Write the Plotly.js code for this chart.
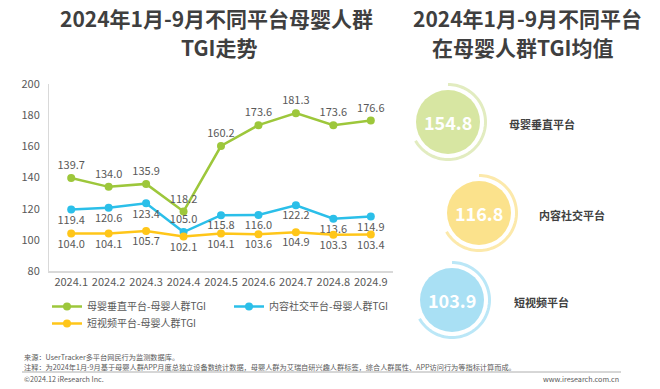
<!DOCTYPE html>
<html><head><meta charset="utf-8">
<script src="https://cdn.plot.ly/plotly-3.0.1.min.js"></script>
<style>html,body{margin:0;padding:0;background:#fff}#c{width:660px;height:389px}</style>
</head><body><div id="c"></div>
<script>
const months = ['2024.1','2024.2','2024.3','2024.4','2024.5','2024.6','2024.7','2024.8','2024.9'];
const vertical = [139.7,134.0,135.9,118.2,160.2,173.6,181.3,173.6,176.6];
const social = [119.4,120.6,123.4,105.0,115.8,116.0,122.2,113.6,114.9];
const shortVideo = [104.0,104.1,105.7,102.1,104.1,103.6,104.9,103.3,103.4];
const seriesNames = ['母婴垂直平台-母婴人群TGI','内容社交平台-母婴人群TGI','短视频平台-母婴人群TGI'];
const avgNames = ['母婴垂直平台','内容社交平台','短视频平台'];
const avgValues = [154.8,116.8,103.9];
const yTicks = [80,100,120,140,160,180,200];

const W=660,H=389;
const px=x=>x/W, py=y=>1-y/H;
const FONT='"Noto Sans CJK SC","Noto Sans",sans-serif';
const lineCols=['#9dc73b','#2bbfe9','#ffc619'];

function tr(y,name,col,pos,leg){
  return {x:months,y:y,name:name,type:'scatter',mode:'lines+markers+text',legend:leg,
    line:{color:col,width:2.5},marker:{color:col,size:8},
    text:y.map(v=>v.toFixed(1)),textposition:pos,
    textfont:{family:FONT,size:11,color:'#595959'},cliponaxis:false,hoverinfo:'skip'};
}
const data=[
  tr(vertical,seriesNames[0],lineCols[0],'top center','legend'),
  tr(social,seriesNames[1],lineCols[1],social.map((v,i)=>i===3?'top center':'bottom center'),'legend'),
  tr(shortVideo,seriesNames[2],lineCols[2],'bottom center','legend2')
];

const shapes=[], annotations=[];
const circ=[
  {cx:448,cy:122,fill:'#d7e6a2',ring:'#e2ecc0'},
  {cx:479,cy:213,fill:'#fbe28c',ring:'#fce9ab'},
  {cx:452,cy:300,fill:'#a9e0f4',ring:'#bbe7f7'}
];
const labelX=[507,537,512];
circ.forEach((c,i)=>{
  const r=32;
  shapes.push({type:'circle',xref:'paper',yref:'paper',x0:px(c.cx-r),x1:px(c.cx+r),y0:py(c.cy+r),y1:py(c.cy-r),fillcolor:c.fill,line:{width:0},layer:'below'});
  const R=37.5; let p='';
  for(let a=90;a>=-152;a-=3){
    const t=a*Math.PI/180;
    const x=c.cx+R*Math.cos(t), y=c.cy-R*Math.sin(t);
    p+=(p?' L':'M')+px(x).toFixed(5)+','+py(y).toFixed(5);
  }
  shapes.push({type:'path',xref:'paper',yref:'paper',path:p,line:{color:c.ring,width:3},layer:'below'});
  annotations.push({xref:'paper',yref:'paper',x:px(c.cx),y:py(c.cy),text:'<b>'+avgValues[i].toFixed(1)+'</b>',showarrow:false,font:{family:FONT,size:18,color:'#ffffff'},xanchor:'center',yanchor:'middle'});
  annotations.push({xref:'paper',yref:'paper',x:px(labelX[i]),y:py(c.cy+2),text:'<b>'+avgNames[i]+'</b>',showarrow:false,font:{family:FONT,size:11,color:'#404040'},xanchor:'left',yanchor:'middle'});
});
const tf={family:FONT,size:21,color:'#3f3f3f'};
annotations.push({xref:'paper',yref:'paper',x:px(216),y:py(18),text:'<b>2024年1月-9月不同平台母婴人群</b>',showarrow:false,font:tf,xanchor:'center',yanchor:'middle'});
annotations.push({xref:'paper',yref:'paper',x:px(219),y:py(47),text:'<b>TGI走势</b>',showarrow:false,font:tf,xanchor:'center',yanchor:'middle'});
annotations.push({xref:'paper',yref:'paper',x:px(527),y:py(18),text:'<b>2024年1月-9月不同平台</b>',showarrow:false,font:tf,xanchor:'center',yanchor:'middle'});
annotations.push({xref:'paper',yref:'paper',x:px(522),y:py(47),text:'<b>在母婴人群TGI均值</b>',showarrow:false,font:tf,xanchor:'center',yanchor:'middle'});
const ff={family:FONT,size:7.2,color:'#595959'};
annotations.push({xref:'paper',yref:'paper',x:px(22),y:py(357),text:'来源：UserTracker多平台网民行为监测数据库。',showarrow:false,font:ff,xanchor:'left',yanchor:'middle'});
annotations.push({xref:'paper',yref:'paper',x:px(22),y:py(367),text:'注释：为2024年1月-9月基于母婴人群APP月度总独立设备数统计数据，母婴人群为艾瑞自研兴趣人群标签，综合人群属性、APP访问行为等指标计算而成。',showarrow:false,font:ff,xanchor:'left',yanchor:'middle'});
annotations.push({xref:'paper',yref:'paper',x:px(22),y:py(379),text:'©2024.12 iResearch Inc.',showarrow:false,font:ff,xanchor:'left',yanchor:'middle'});
annotations.push({xref:'paper',yref:'paper',x:px(621),y:py(379),text:'www.iresearch.com.cn',showarrow:false,font:ff,xanchor:'right',yanchor:'middle'});
shapes.push({type:'line',xref:'paper',yref:'paper',x0:px(22),x1:px(621),y0:py(372),y1:py(372),line:{color:'#9a9a9a',width:0.8}});

const legFont={family:FONT,size:10,color:'#595959'};
const layout={
  width:W,height:H,margin:{l:0,r:0,t:0,b:0},paper_bgcolor:'#fff',plot_bgcolor:'#fff',
  font:{family:FONT,color:'#595959'},
  showlegend:true,
  legend:{orientation:'h',x:px(47),y:py(292),xanchor:'left',yanchor:'top',font:legFont,itemwidth:30,entrywidth:137,bgcolor:'rgba(0,0,0,0)'},
  legend2:{orientation:'h',x:px(47),y:py(309),xanchor:'left',yanchor:'top',font:legFont,itemwidth:30,bgcolor:'rgba(0,0,0,0)'},
  xaxis:{domain:[px(49),px(393)],type:'category',showline:true,linecolor:'#d9d9d9',linewidth:1.5,ticks:'',showgrid:false,zeroline:false,tickfont:{family:FONT,size:11,color:'#595959'}},
  yaxis:{domain:[py(271),py(84)],range:[80,200],tickvals:yTicks,showline:true,linecolor:'#d9d9d9',linewidth:1,ticks:'',showgrid:false,zeroline:false,tickfont:{family:FONT,size:11,color:'#595959'},ticklabelstandoff:6},
  shapes:shapes,annotations:annotations
};
Plotly.newPlot('c',data,layout,{staticPlot:true});
</script></body></html>
